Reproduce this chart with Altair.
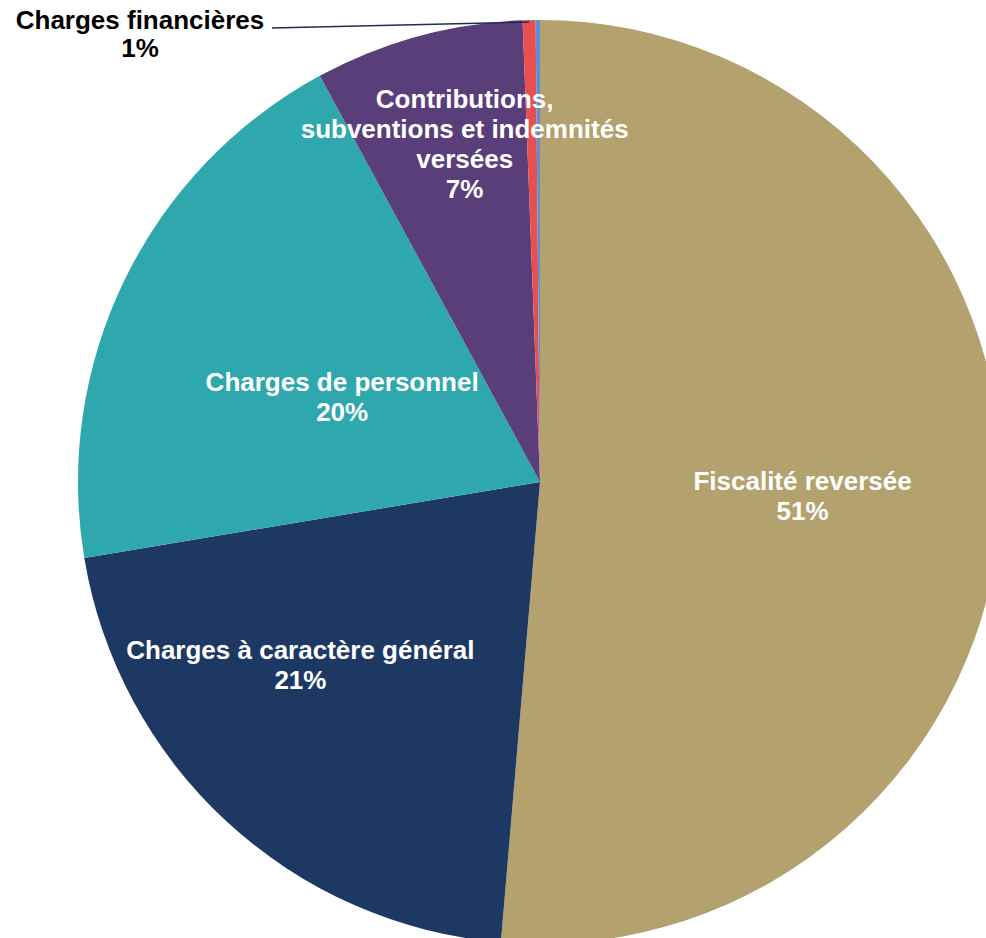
import altair as alt
import pandas as pd

categories = [
    "Fiscalité reversée",
    "Charges à caractère général",
    "Charges de personnel",
    "Contributions, subventions et indemnités versées",
    "Charges financières",
    "Autres",
]
values = [51.3, 21.0, 19.7, 7.3, 0.45, 0.15]
labels = [
    "Fiscalité reversée\n51%",
    "Charges à caractère général\n21%",
    "Charges de personnel\n20%",
    "Contributions,\nsubventions et indemnités\nversées\n7%",
    "",
    "",
]
colors = ["#B3A16E", "#1E3864", "#2FA8AD", "#5A3E7A", "#E8504F", "#5B8FD6"]

df = pd.DataFrame({
    "category": categories,
    "value": values,
    "label": labels,
    "order": list(range(len(categories))),
})

CX, CY, R = 540, 482, 462
LH = 30

base = alt.Chart(df)

pie = base.mark_arc(radius=R).encode(
    theta=alt.Theta("value:Q", stack=True),
    order=alt.Order("order:Q"),
    color=alt.Color("category:N", scale=alt.Scale(domain=categories, range=colors), legend=None),
    x=alt.value(CX),
    y=alt.value(CY),
)

adj = "[0.8, 9.8, -3.0, 2.7, 0, 0][datum.order]"
rad = "[263, 302, 215, 345, 0, 0][datum.order]"

text = base.transform_window(
    cum="sum(value)", sort=[alt.SortField("order")], frame=[None, 0]
).transform_joinaggregate(
    total="sum(value)"
).transform_calculate(
    ang=f"(datum.cum - datum.value / 2) / datum.total * 2 * PI + {adj} * PI / 180",
    r=rad,
    nl="length(split(datum.label, '\\n'))",
).transform_calculate(
    px=f"{CX} + datum.r * sin(datum.ang)",
    py=f"{CY} - datum.r * cos(datum.ang) - (datum.nl - 1) * {LH} / 2",
).transform_filter("datum.label != ''").mark_text(
    font="Liberation Sans", fontWeight="bold", fontSize=26, color="white",
    lineBreak="\n", lineHeight=LH, align="center", baseline="middle",
).encode(
    x=alt.X("px:Q", scale=None, axis=None),
    y=alt.Y("py:Q", scale=None, axis=None),
    text="label:N",
)

callout_text = alt.Chart(pd.DataFrame({"t": ["Charges financières\n1%"]})).mark_text(
    font="Liberation Sans", fontWeight="bold", fontSize=26, color="black",
    lineBreak="\n", lineHeight=28, align="center", baseline="middle",
).encode(x=alt.value(140), y=alt.value(21), text="t:N")

leader = alt.Chart(pd.DataFrame({"a": [0]})).mark_rule(color="#1F2D54", strokeWidth=1.5).encode(
    x=alt.value(272), y=alt.value(28), x2=alt.value(529), y2=alt.value(22)
)

chart = alt.layer(pie, text, leader, callout_text).properties(
    width=986, height=938, padding=0, autosize=alt.AutoSizeParams(type="none"),
    background="white",
).configure_view(stroke=None)

chart.save("out.html", embed_options={"renderer": "svg", "actions": False})
